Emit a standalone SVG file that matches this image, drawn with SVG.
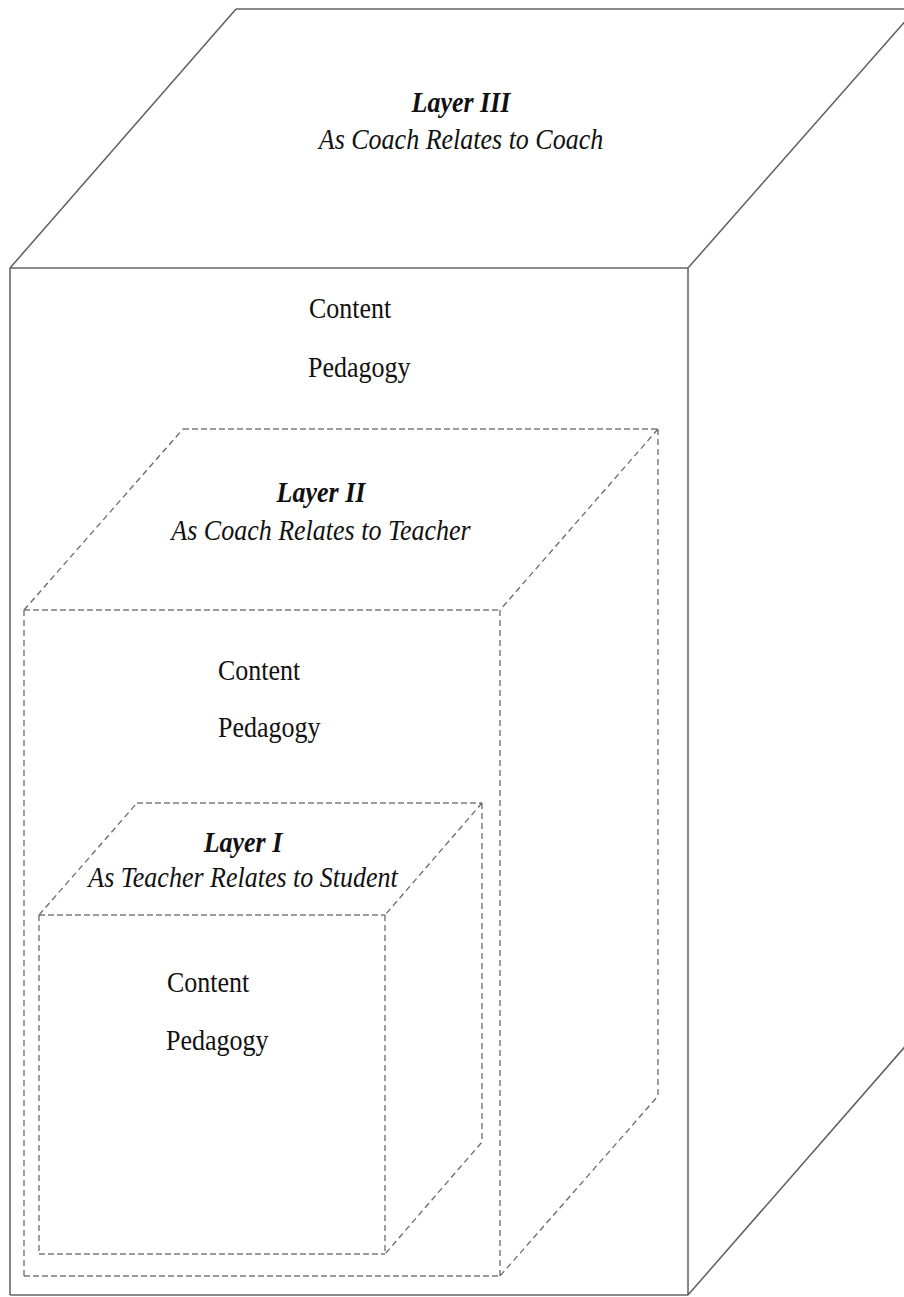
<svg xmlns="http://www.w3.org/2000/svg" width="904" height="1297" viewBox="0 0 904 1297">
<style>
.solid{fill:none;stroke:#5f5f5f;stroke-width:1.5;stroke-linejoin:miter}
.solidh{fill:none;stroke:#8a8a8a;stroke-width:2.2}
.dash{fill:none;stroke:#6a6a6a;stroke-width:1.3;stroke-dasharray:6 4}
.dashh{fill:none;stroke:#9a9a9a;stroke-width:2.2;stroke-dasharray:6 3}
.title{font-family:"Liberation Serif",serif;font-size:26px;font-style:italic;font-weight:bold;fill:#111;text-anchor:middle}
.sub{font-family:"Liberation Serif",serif;font-size:26px;font-style:italic;fill:#111;text-anchor:middle}
.body{font-family:"Liberation Serif",serif;font-size:26px;fill:#111}
</style>
<rect width="904" height="1297" fill="#fff"/>
<g id="layer3">
  <path class="solidh" d="M236,9 L916,9 M10,268 L688,268 M10,1295 L688,1295"/>
  <path class="solid" d="M10,268 L236,9 M688,268 L916,9 M10,268 L10,1295 M688,268 L688,1295 M688,1295 L916,1034"/>
  <text class="title" transform="translate(461,112) scale(1,1.12)">Layer III</text>
  <text class="sub" transform="translate(461,149) scale(1,1.12)">As Coach Relates to Coach</text>
  <text class="body" transform="translate(309,318) scale(1,1.15)">Content</text>
  <text class="body" transform="translate(308,377) scale(1,1.15)">Pedagogy</text>
</g>
<g id="layer2">
  <path class="dashh" d="M183,429 L658,429 M24,610 L500,610 M24,1276 L500,1276"/>
  <path class="dash" d="M24,610 L183,429 M658,429 L500,610 M24,610 L24,1276 M500,610 L500,1276 M658,429 L658,1096 L500,1276"/>
  <text class="title" transform="translate(321,502) scale(1,1.12)">Layer II</text>
  <text class="sub" transform="translate(321,540) scale(1,1.12)">As Coach Relates to Teacher</text>
  <text class="body" transform="translate(218,680) scale(1,1.15)">Content</text>
  <text class="body" transform="translate(218,737) scale(1,1.15)">Pedagogy</text>
</g>
<g id="layer1">
  <path class="dashh" d="M137,803 L482,803 M39,915 L385,915 M39,1254 L385,1254"/>
  <path class="dash" d="M39,915 L137,803 M482,803 L385,915 M39,915 L39,1254 M385,915 L385,1254 M482,803 L482,1142 L385,1254"/>
  <text class="title" transform="translate(243,852) scale(1,1.12)">Layer I</text>
  <text class="sub" transform="translate(243,887) scale(1,1.12)">As Teacher Relates to Student</text>
  <text class="body" transform="translate(167,992) scale(1,1.15)">Content</text>
  <text class="body" transform="translate(166,1050) scale(1,1.15)">Pedagogy</text>
</g>
<g id="connectors"></g>
</svg>
